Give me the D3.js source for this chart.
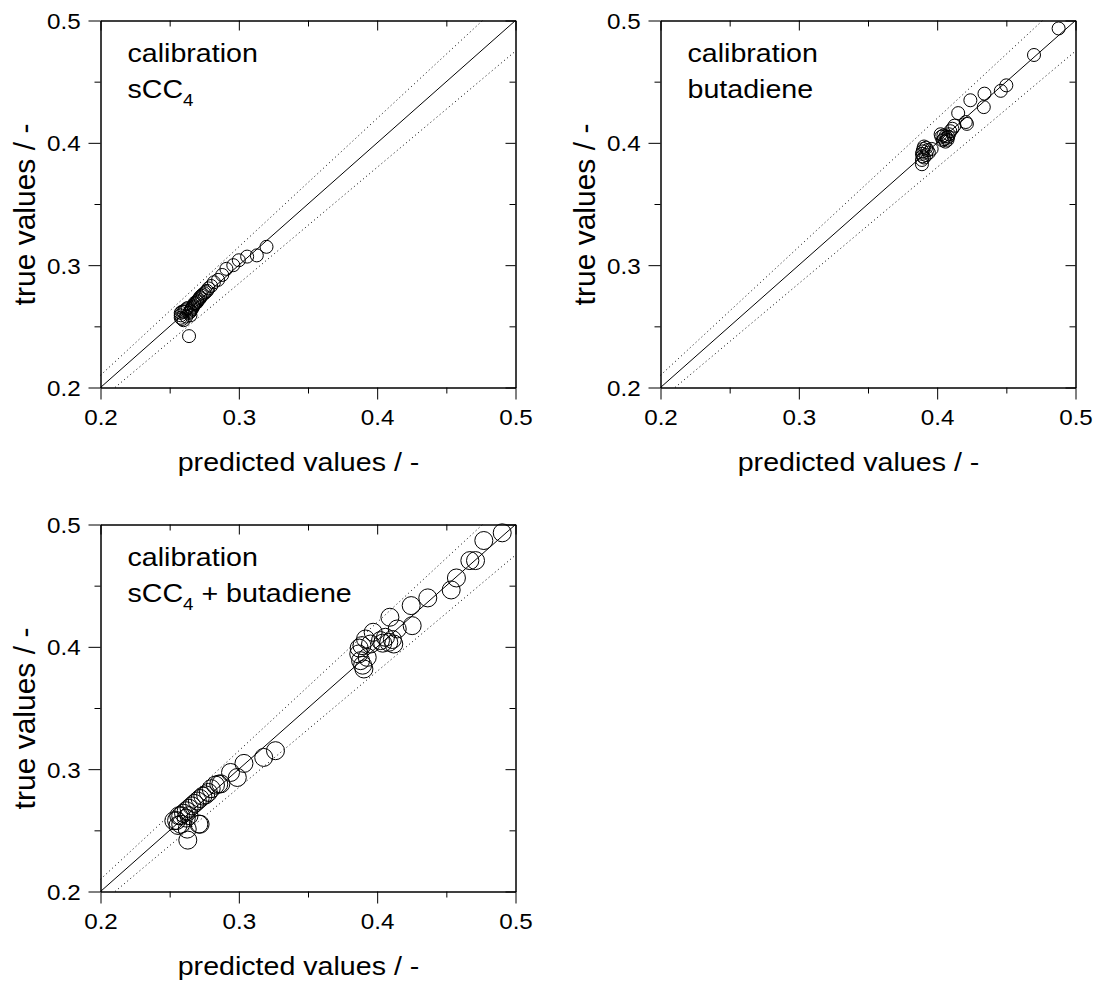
<!DOCTYPE html>
<html>
<head>
<meta charset="utf-8">
<script src="https://cdn.jsdelivr.net/npm/d3@7"></script>
<style>
  body { margin: 0; background: #fff; }
  text { font-family: "Liberation Sans", Arial, sans-serif; fill: #000; }
</style>
</head>
<body>
<div id="chart"></div>
<script>
// axis settings shared by all three panels
const axisDomain = [0.2, 0.5];
const majorTicks = [0.2, 0.3, 0.4, 0.5];
const minorTicks = [0.25, 0.35, 0.45];
const bandFactor = 0.05;   // dotted lines at +/- 5 %

// panel 1: calibration sCC4
const predSCC4 = [0.320, 0.313, 0.306, 0.300, 0.296, 0.291, 0.288, 0.285, 0.282, 0.280,
  0.278, 0.277, 0.276, 0.275, 0.274, 0.273, 0.272, 0.272, 0.271, 0.270,
  0.270, 0.269, 0.268, 0.268, 0.267, 0.267, 0.266, 0.266, 0.265, 0.265,
  0.264, 0.263, 0.262, 0.261, 0.260, 0.259, 0.258, 0.258, 0.258, 0.259,
  0.260, 0.262, 0.265, 0.264];
const trueSCC4 = [0.315, 0.308, 0.307, 0.304, 0.300, 0.297, 0.292, 0.288, 0.286, 0.283,
  0.281, 0.279, 0.278, 0.277, 0.276, 0.275, 0.274, 0.273, 0.272, 0.271,
  0.270, 0.269, 0.269, 0.268, 0.267, 0.266, 0.265, 0.264, 0.263, 0.262,
  0.261, 0.265, 0.264, 0.263, 0.262, 0.262, 0.261, 0.259, 0.257, 0.256,
  0.255, 0.258, 0.259, 0.242];

// panel 2: calibration butadiene
const predButa = [0.4878, 0.4700, 0.4500, 0.4460, 0.4342, 0.4337, 0.4240, 0.4152, 0.4207, 0.4215,
  0.4125, 0.4110, 0.4095, 0.4085, 0.4080, 0.4070, 0.4060, 0.4050, 0.4045, 0.4040,
  0.4030, 0.4025, 0.4060, 0.4075, 0.3960, 0.3940, 0.3920, 0.3905, 0.3900, 0.3895,
  0.3890, 0.3895, 0.3905, 0.3890, 0.3890, 0.3920, 0.3930];
const trueButa = [0.4935, 0.4718, 0.4470, 0.4425, 0.4402, 0.4292, 0.4348, 0.4243, 0.4170, 0.4155,
  0.4140, 0.4115, 0.4095, 0.4070, 0.4050, 0.4040, 0.4055, 0.4030, 0.4060, 0.4020,
  0.4050, 0.4070, 0.4010, 0.4025, 0.3950, 0.3920, 0.3960, 0.3970, 0.3950, 0.3930,
  0.3910, 0.3890, 0.3880, 0.3860, 0.3825, 0.3900, 0.3940];

// panel 3: calibration sCC4 + butadiene
const predBoth = [0.4904, 0.4771, 0.4711, 0.4670, 0.4573, 0.4535, 0.4366, 0.4246, 0.4253, 0.4092,
  0.4145, 0.3971, 0.3916, 0.4024, 0.4084, 0.4120, 0.3952, 0.4060, 0.4110, 0.4040,
  0.3890, 0.3870, 0.3867, 0.3880, 0.3904, 0.3928, 0.3895,
  0.3265, 0.3180, 0.3037, 0.2989, 0.2940, 0.2870, 0.2855, 0.2831, 0.2800, 0.2780,
  0.2760, 0.2740, 0.2720, 0.2700, 0.2680, 0.2660, 0.2640, 0.2620, 0.2600, 0.2580,
  0.2566, 0.2550, 0.2530, 0.2560, 0.2580, 0.2620, 0.2640, 0.2711, 0.2627, 0.2631, 0.2720];
const trueBoth = [0.4932, 0.4869, 0.4705, 0.4705, 0.4563, 0.4465, 0.4400, 0.4337, 0.4173, 0.4242,
  0.4146, 0.4119, 0.4064, 0.4051, 0.4037, 0.4023, 0.4023, 0.4078, 0.4060, 0.4030,
  0.4010, 0.3990, 0.3942, 0.3887, 0.3819, 0.3914, 0.3850,
  0.3151, 0.3096, 0.3047, 0.2932, 0.2973, 0.2880, 0.2878, 0.2870, 0.2840, 0.2810,
  0.2790, 0.2780, 0.2760, 0.2740, 0.2720, 0.2700, 0.2680, 0.2660, 0.2640, 0.2620,
  0.2619, 0.2580, 0.2578, 0.2540, 0.2550, 0.2600, 0.2620, 0.2551, 0.2510, 0.2420, 0.2550];

const panels = [
  { left: 100, top: 20, pred: predSCC4, truth: trueSCC4, r: 6.5, label: ['calibration', ['sCC', '4', '']] },
  { left: 660, top: 20, pred: predButa, truth: trueButa, r: 6.5, label: ['calibration', ['butadiene']] },
  { left: 100, top: 524, pred: predBoth, truth: trueBoth, r: 9, label: ['calibration', ['sCC', '4', ' + butadiene']] }
];

const width = 1100, height = 985;
const plotW = 415, plotH = 367;
const stretch = 'scale(1.1,1)';

const svg = d3.select('#chart').append('svg')
  .attr('width', width)
  .attr('height', height);

function drawPanel(p) {
  const x = d3.scaleLinear().domain(axisDomain).range([0, plotW]);
  const y = d3.scaleLinear().domain(axisDomain).range([plotH, 0]);

  const g = svg.append('g')
    .attr('transform', 'translate(' + (p.left + 0.5) + ',' + (p.top + 0.5) + ')');

  // bottom + left: outward ticks with labels
  g.append('g').attr('transform', 'translate(0,' + plotH + ')')
    .call(d3.axisBottom(x).tickValues(minorTicks).tickSize(6).tickSizeOuter(0).tickFormat(''));
  g.append('g').attr('transform', 'translate(0,' + plotH + ')')
    .call(d3.axisBottom(x).tickValues(majorTicks).tickSize(12).tickSizeOuter(0)
      .tickPadding(10).tickFormat(d3.format('.1f')));

  g.append('g')
    .call(d3.axisLeft(y).tickValues(minorTicks).tickSize(6).tickSizeOuter(0).tickFormat(''));
  const yAx = g.append('g')
    .call(d3.axisLeft(y).tickValues(majorTicks).tickSize(12).tickSizeOuter(0)
      .tickPadding(6).tickFormat(d3.format('.1f')));

  // top + right: inward mirror ticks
  g.append('g')
    .call(d3.axisBottom(x).tickValues(minorTicks).tickSize(6).tickSizeOuter(0).tickFormat(''));
  g.append('g')
    .call(d3.axisBottom(x).tickValues(majorTicks).tickSize(10).tickSizeOuter(0).tickFormat(''));
  g.append('g').attr('transform', 'translate(' + plotW + ',0)')
    .call(d3.axisLeft(y).tickValues(minorTicks).tickSize(6).tickSizeOuter(0).tickFormat(''));
  g.append('g').attr('transform', 'translate(' + plotW + ',0)')
    .call(d3.axisLeft(y).tickValues(majorTicks).tickSize(10).tickSizeOuter(0).tickFormat(''));

  g.selectAll('.domain, .tick line').attr('stroke', '#000').attr('stroke-width', 1);
  g.selectAll('.tick text')
    .attr('font-size', 22)
    .attr('font-family', '"Liberation Sans", Arial, sans-serif')
    .attr('fill', '#000')
    .attr('transform', stretch);
  yAx.selectAll('.tick text').attr('dy', '0.36em');

  // 1:1 line and +/- 5 % lines
  const line = d3.line().x(d => x(d[0])).y(d => y(d[1]));
  const lo = axisDomain[0], hi = axisDomain[1];
  g.append('path')
    .attr('d', line([[lo, lo], [hi, hi]]))
    .attr('fill', 'none').attr('stroke', '#000').attr('stroke-width', 1);
  g.append('path')
    .attr('d', line([[lo, lo * (1 + bandFactor)], [hi / (1 + bandFactor), hi]]))
    .attr('fill', 'none').attr('stroke', '#000').attr('stroke-width', 1)
    .attr('stroke-dasharray', '1,3');
  g.append('path')
    .attr('d', line([[lo / (1 - bandFactor), lo], [hi, hi * (1 - bandFactor)]]))
    .attr('fill', 'none').attr('stroke', '#000').attr('stroke-width', 1)
    .attr('stroke-dasharray', '1,3');

  // points
  g.append('g').selectAll('circle')
    .data(p.pred.map((v, i) => [v, p.truth[i]]))
    .enter().append('circle')
    .attr('cx', d => x(d[0]))
    .attr('cy', d => y(d[1]))
    .attr('r', p.r)
    .attr('fill', 'none')
    .attr('stroke', '#000')
    .attr('stroke-width', 1);

  // axis titles
  g.append('text')
    .attr('transform', 'translate(198,' + (plotH + 83) + ') ' + stretch)
    .attr('text-anchor', 'middle')
    .attr('font-size', 26)
    .text('predicted values / -');

  g.append('text')
    .attr('transform', 'translate(-66,194) rotate(-90)')
    .attr('text-anchor', 'middle')
    .attr('font-size', 30)
    .text('true values / -');

  // annotation
  const note = g.append('g').attr('transform', 'translate(27,0)');
  note.append('text')
    .attr('transform', 'translate(0,41) ' + stretch)
    .attr('font-size', 26)
    .text(p.label[0]);
  const second = note.append('text')
    .attr('transform', 'translate(0,77) ' + stretch)
    .attr('font-size', 26);
  const parts = p.label[1];
  second.append('tspan').text(parts[0]);
  if (parts.length > 1) {
    second.append('tspan').attr('font-size', 17).attr('dy', 8).text(parts[1]);
    second.append('tspan').attr('dy', -8).text(parts[2]);
  }
}

panels.forEach(drawPanel);
</script>
</body>
</html>
